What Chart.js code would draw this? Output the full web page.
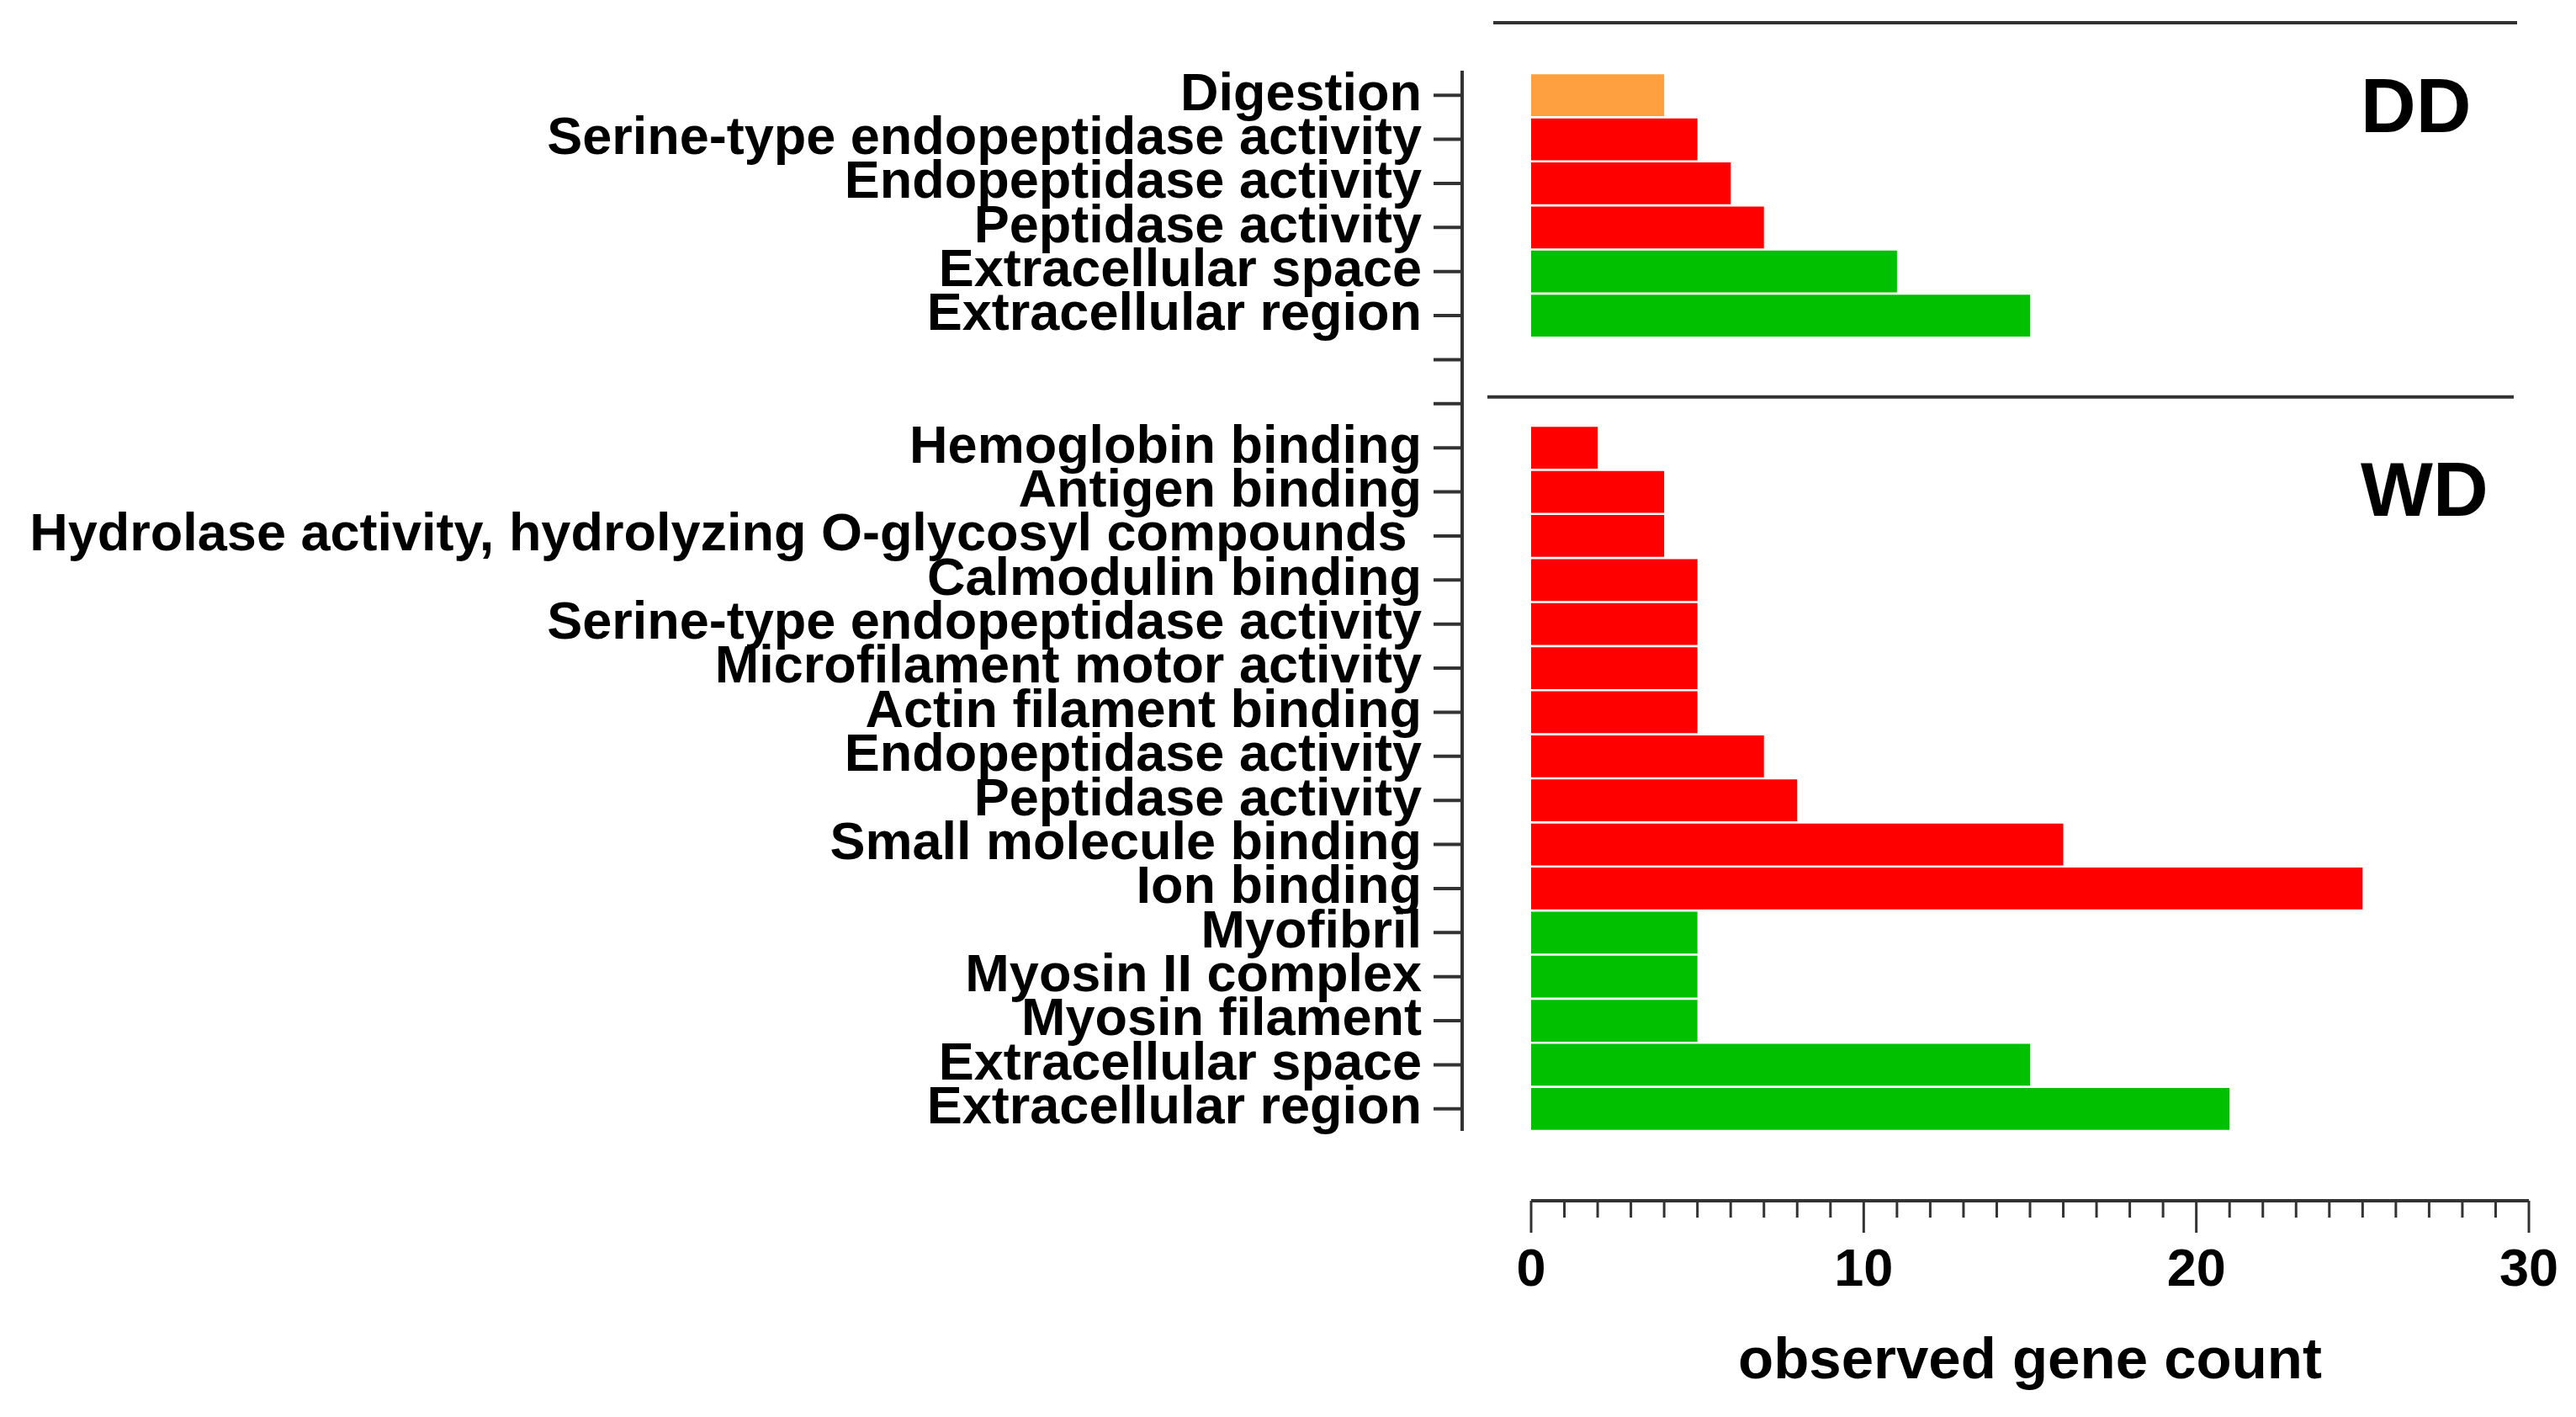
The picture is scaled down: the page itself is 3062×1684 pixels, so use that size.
<!DOCTYPE html>
<html>
<head>
    <title>Observed gene count, DD and WD</title>
    <meta charset="UTF-8">
    <style>
        body { margin: 0; background: #fff; }
    </style>
</head>
<body>
<canvas id="myChart" width="3062" height="1684"></canvas>
<script src="https://cdn.jsdelivr.net/npm/chart.js@4/dist/chart.umd.min.js"></script>
<script>
    // top panel (DD)
    var ddTerms = ['Digestion', 'Serine-type endopeptidase activity', 'Endopeptidase activity',
        'Peptidase activity', 'Extracellular space', 'Extracellular region'];
    var ddCounts = [4, 5, 6, 7, 11, 15];
    var ddTypes = ['BP', 'MF', 'MF', 'MF', 'CC', 'CC'];

    // bottom panel (WD)
    var wdTerms = ['Hemoglobin binding', 'Antigen binding', 'Hydrolase activity, hydrolyzing O-glycosyl compounds ',
        'Calmodulin binding', 'Serine-type endopeptidase activity', 'Microfilament motor activity',
        'Actin filament binding', 'Endopeptidase activity', 'Peptidase activity', 'Small molecule binding',
        'Ion binding', 'Myofibril', 'Myosin II complex', 'Myosin filament', 'Extracellular space',
        'Extracellular region'];
    var wdCounts = [2, 4, 4, 5, 5, 5, 5, 7, 8, 16, 25, 5, 5, 5, 15, 21];
    var wdTypes = ['MF', 'MF', 'MF', 'MF', 'MF', 'MF', 'MF', 'MF', 'MF', 'MF', 'MF',
        'CC', 'CC', 'CC', 'CC', 'CC'];

    var panelNames = ['DD', 'WD'];
    var xTicks = [0, 10, 20, 30];
    var typeColors = {BP: '#FFA040', MF: '#FF0000', CC: '#00C000'};

    // two empty slots between the panels
    var labels = ddTerms.concat(['', ''], wdTerms);
    var counts = ddCounts.concat([null, null], wdCounts);
    var colors = ddTypes.concat(['MF', 'MF'], wdTypes).map(function (t) { return typeColors[t]; });

    var font = 'Liberation Sans, Arial, sans-serif';

    function line(ctx, x1, y1, x2, y2) {
        ctx.beginPath();
        ctx.moveTo(x1, y1);
        ctx.lineTo(x2, y2);
        ctx.stroke();
    }

    // keep the big tick paddings from pushing the plot area in
    function noPadding(s) {
        s.paddingTop = 0;
        s.paddingBottom = 0;
        s.paddingLeft = 0;
        s.paddingRight = 0;
    }

    // axes in this figure sit apart from the bars, so they are drawn here
    var detachedAxes = {
        id: 'detachedAxes',
        afterDraw: function (chart) {
            var ctx = chart.ctx;
            var x = chart.scales.x;
            var y = chart.scales.y;
            var area = chart.chartArea;
            ctx.save();
            ctx.strokeStyle = '#333';
            ctx.lineWidth = 4;

            var yAxisX = area.left - 82;
            line(ctx, yAxisX, area.top - 3, yAxisX, area.bottom);
            y.ticks.forEach(function (t, i) {
                var py = y.getPixelForTick(i);
                line(ctx, yAxisX - 34, py, yAxisX, py);
            });

            var xAxisY = area.bottom + 83;
            line(ctx, x.getPixelForValue(0), xAxisY, x.getPixelForValue(30), xAxisY);
            ctx.lineWidth = 3;
            for (var v = 0; v <= 30; v++) {
                var px = x.getPixelForValue(v);
                line(ctx, px, xAxisY, px, xAxisY + (v % 10 === 0 ? 38 : 20));
            }

            // panel frame lines
            ctx.lineWidth = 4;
            line(ctx, area.left - 45, area.top - 60, area.right - 14, area.top - 60);
            var sepY = y.getPixelForValue(7) - 8;
            line(ctx, area.left - 52, sepY, area.right - 18, sepY);

            ctx.fillStyle = '#000';
            ctx.font = 'bold 91px ' + font;
            ctx.textAlign = 'left';
            ctx.textBaseline = 'alphabetic';
            ctx.fillText(panelNames[0], area.right - 200, 157);
            ctx.fillText(panelNames[1], area.right - 200, 613);
            ctx.restore();
        }
    };

    var ctx = document.getElementById('myChart').getContext('2d');
    var myChart = new Chart(ctx, {
        type: 'bar',
        data: {
            labels: labels,
            datasets: [
                {
                    data: counts,
                    backgroundColor: colors,
                    barPercentage: 1,
                    categoryPercentage: 0.95
                }
            ]
        },
        options: {
            indexAxis: 'y',
            responsive: false,
            devicePixelRatio: 1,
            animation: false,
            layout: {padding: {top: 87, right: 56, bottom: 0, left: 0}},
            plugins: {
                legend: {display: false},
                tooltip: {enabled: false}
            },
            scales: {
                x: {
                    min: 0,
                    max: 30,
                    afterFit: function (s) { s.height = 340; noPadding(s); },
                    afterBuildTicks: function (s) {
                        s.ticks = xTicks.map(function (v) { return {value: v}; });
                    },
                    grid: {display: false, drawTicks: false},
                    border: {display: false},
                    ticks: {
                        padding: 129,
                        autoSkip: false,
                        maxRotation: 0,
                        color: '#000',
                        font: {family: font, size: 63, weight: 'bold'}
                    },
                    title: {
                        display: true,
                        text: 'observed gene count',
                        color: '#000',
                        font: {family: font, size: 69, weight: 'bold'},
                        padding: {top: 0, bottom: 24}
                    }
                },
                y: {
                    afterFit: function (s) { s.width = 1820; noPadding(s); },
                    grid: {display: false, drawTicks: false},
                    border: {display: false},
                    ticks: {
                        padding: 130,
                        autoSkip: false,
                        color: '#000',
                        font: {family: font, size: 63, weight: 'bold'}
                    }
                }
            }
        },
        plugins: [detachedAxes]
    });
</script>
</body>
</html>
